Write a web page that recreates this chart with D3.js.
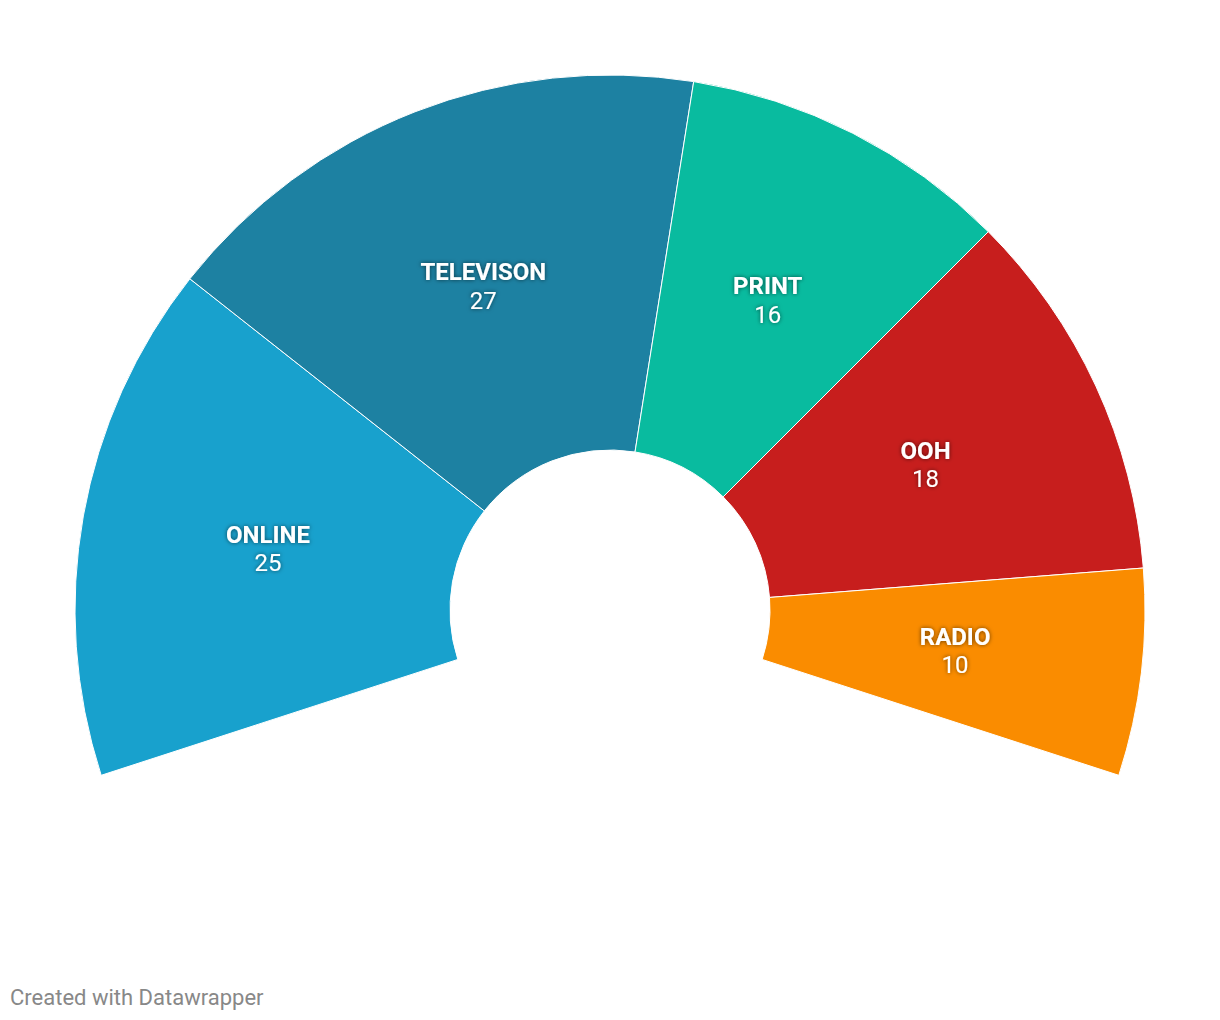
<!DOCTYPE html>
<html>
<head>
<meta charset="utf-8">
<script src="https://cdn.jsdelivr.net/npm/d3@7"></script>
<style>
  html, body { margin: 0; padding: 0; background: #fff; }
  svg { display: block; font-family: Roboto, "Noto Sans", sans-serif; }
</style>
</head>
<body>
<svg id="chart" width="1220" height="1020"></svg>
<script>
const categories = ["ONLINE", "TELEVISON", "PRINT", "OOH", "RADIO"];
const values = [25, 27, 16, 18, 10];
const colors = ["#18a1cd", "#1d81a2", "#09bb9f", "#c71e1d", "#fa8c00"];

const svg = d3.select("#chart");
const defs = svg.append("defs");
const f = defs.append("filter").attr("id", "shadow").attr("x", "-20%").attr("y", "-50%").attr("width", "140%").attr("height", "200%");
f.append("feDropShadow").attr("dx", 0).attr("dy", 0).attr("stdDeviation", 2).attr("flood-color", "#000").attr("flood-opacity", 0.6);

const cx = 610, cy = 610, rIn = 160, rOut = 535;
const data = categories.map((c, i) => ({ name: c, value: values[i], color: colors[i] }));

const pie = d3.pie().value(d => d.value).sort(null)
  .startAngle(-108 * Math.PI / 180).endAngle(108 * Math.PI / 180);
const arc = d3.arc().innerRadius(rIn).outerRadius(rOut);
const arcs = pie(data);

const g = svg.append("g").attr("transform", `translate(${cx},${cy})`);
g.selectAll("path").data(arcs).join("path")
  .attr("d", arc)
  .attr("fill", d => d.data.color)
  .attr("stroke", "#fff")
  .attr("stroke-width", 1);

const lab = g.selectAll("g.lab").data(arcs).join("g").attr("class", "lab")
  .attr("transform", d => `translate(${arc.centroid(d)})`)
  .attr("filter", "url(#shadow)");
lab.append("text").text(d => d.data.name)
  .attr("text-anchor", "middle").attr("y", -6)
  .attr("fill", "#fff").attr("font-weight", 700).attr("font-size", 24);
lab.append("text").text(d => d.data.value)
  .attr("text-anchor", "middle").attr("y", 22.5)
  .attr("fill", "#fff").attr("font-weight", 400).attr("font-size", 24);

svg.append("text").text("Created with Datawrapper")
  .attr("x", 10).attr("y", 1005)
  .attr("fill", "#888").attr("font-size", 22);
</script>
</body>
</html>
